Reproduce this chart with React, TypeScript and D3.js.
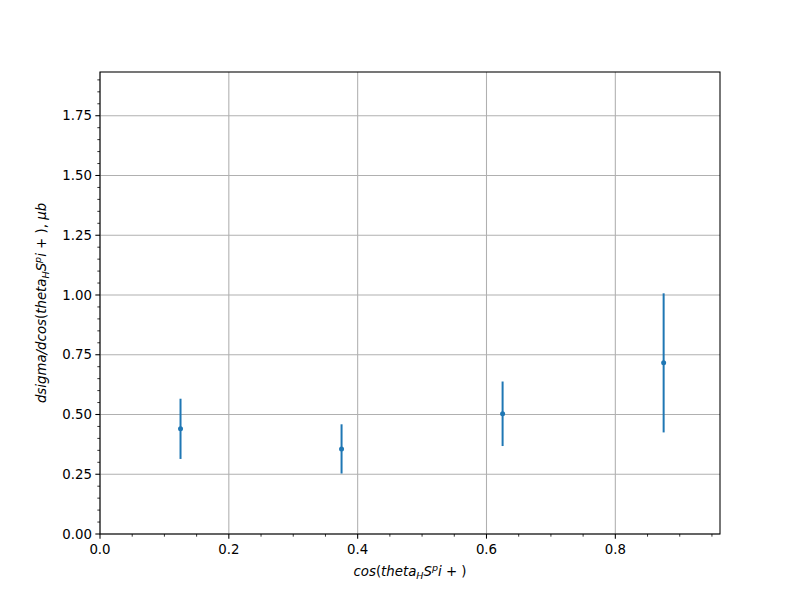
import React from "react";
import * as d3 from "d3";

const xValues = [0.125, 0.375, 0.625, 0.875];
const yValues = [0.44, 0.356, 0.503, 0.716];
const yErrors = [0.126, 0.103, 0.135, 0.291];
const xTicks = [0.0, 0.2, 0.4, 0.6, 0.8];
const yTicks = [0.0, 0.25, 0.5, 0.75, 1.0, 1.25, 1.5, 1.75];

const W = 800, H = 600;
const L = 100, R = 720, T = 72, B = 534;
const COLOR = "#1f77b4";
const FONT = "DejaVu Sans";

export default function App() {
  const x = d3.scaleLinear().domain([0, 0.9625]).range([L, R]);
  const y = d3.scaleLinear().domain([0, 1.933]).range([B, T]);
  const xMinor = d3.range(0, 0.9625, 0.05).filter((v) => Math.abs(Math.round(v / 0.2) * 0.2 - v) > 1e-6);
  const yMinor = d3.range(0, 1.933, 0.05).filter((v) => Math.abs(Math.round(v / 0.25) * 0.25 - v) > 1e-6);
  return (
    <div style={{ position: "absolute", left: 0, top: 0 }}>
      <svg width={W} height={H} style={{ display: "block", background: "#fff" }} fontFamily={FONT}>
        <rect x={0} y={0} width={W} height={H} fill="#fff" />
        {/* grid */}
        {xTicks.map((t) => (
          <line key={"gx" + t} x1={x(t)} x2={x(t)} y1={T} y2={B} stroke="#b0b0b0" strokeWidth={1.07} />
        ))}
        {yTicks.map((t) => (
          <line key={"gy" + t} x1={L} x2={R} y1={y(t)} y2={y(t)} stroke="#b0b0b0" strokeWidth={1.07} />
        ))}
        {/* error bars */}
        {xValues.map((xv, i) => (
          <g key={"e" + i}>
            <line x1={x(xv)} x2={x(xv)} y1={y(yValues[i] - yErrors[i])} y2={y(yValues[i] + yErrors[i])} stroke={COLOR} strokeWidth={2} />
            <circle cx={x(xv)} cy={y(yValues[i])} r={2.5} fill={COLOR} />
          </g>
        ))}
        {/* spines */}
        <rect x={L} y={T} width={R - L} height={B - T} fill="none" stroke="#000" strokeWidth={1.07} />
        {/* x ticks */}
        {xTicks.map((t) => (
          <g key={"xt" + t}>
            <line x1={x(t)} x2={x(t)} y1={B} y2={B + 4.67} stroke="#000" strokeWidth={1.07} />
            <text x={x(t)} y={B + 20} textAnchor="middle" fontSize={13.33} fill="#000">{t.toFixed(1)}</text>
          </g>
        ))}
        {xMinor.map((t) => (
          <line key={"xm" + t} x1={x(t)} x2={x(t)} y1={B} y2={B + 2.67} stroke="#000" strokeWidth={0.8} />
        ))}
        {/* y ticks */}
        {yTicks.map((t) => (
          <g key={"yt" + t}>
            <line x1={L - 4.67} x2={L} y1={y(t)} y2={y(t)} stroke="#000" strokeWidth={1.07} />
            <text x={L - 8} y={y(t)} dy="0.35em" textAnchor="end" fontSize={13.33} fill="#000">{t.toFixed(2)}</text>
          </g>
        ))}
        {yMinor.map((t) => (
          <line key={"ym" + t} x1={L - 2.67} x2={L} y1={y(t)} y2={y(t)} stroke="#000" strokeWidth={0.8} />
        ))}
        {/* x label */}
        <text x={(L + R) / 2} y={576} textAnchor="middle" fontSize={13.33} fill="#000" fontStyle="italic">
          <tspan>cos</tspan><tspan fontStyle="normal">(</tspan><tspan>theta</tspan>
          <tspan fontSize={9.5} dy={3}>H</tspan>
          <tspan dy={-3}>S</tspan>
          <tspan fontSize={9.5} dy={-5}>p</tspan>
          <tspan dy={5}>i</tspan><tspan fontStyle="normal"> + )</tspan>
        </text>
        {/* y label */}
        <text transform={`translate(46,${(T + B) / 2}) rotate(-90)`} textAnchor="middle" fontSize={13.33} fill="#000" fontStyle="italic">
          <tspan>dsigma/dcos</tspan><tspan fontStyle="normal">(</tspan><tspan>theta</tspan>
          <tspan fontSize={9.5} dy={3}>H</tspan>
          <tspan dy={-3}>S</tspan>
          <tspan fontSize={9.5} dy={-5}>p</tspan>
          <tspan dy={5}>i</tspan><tspan fontStyle="normal"> + ),</tspan><tspan> μb</tspan>
        </text>
      </svg>
    </div>
  );
}
